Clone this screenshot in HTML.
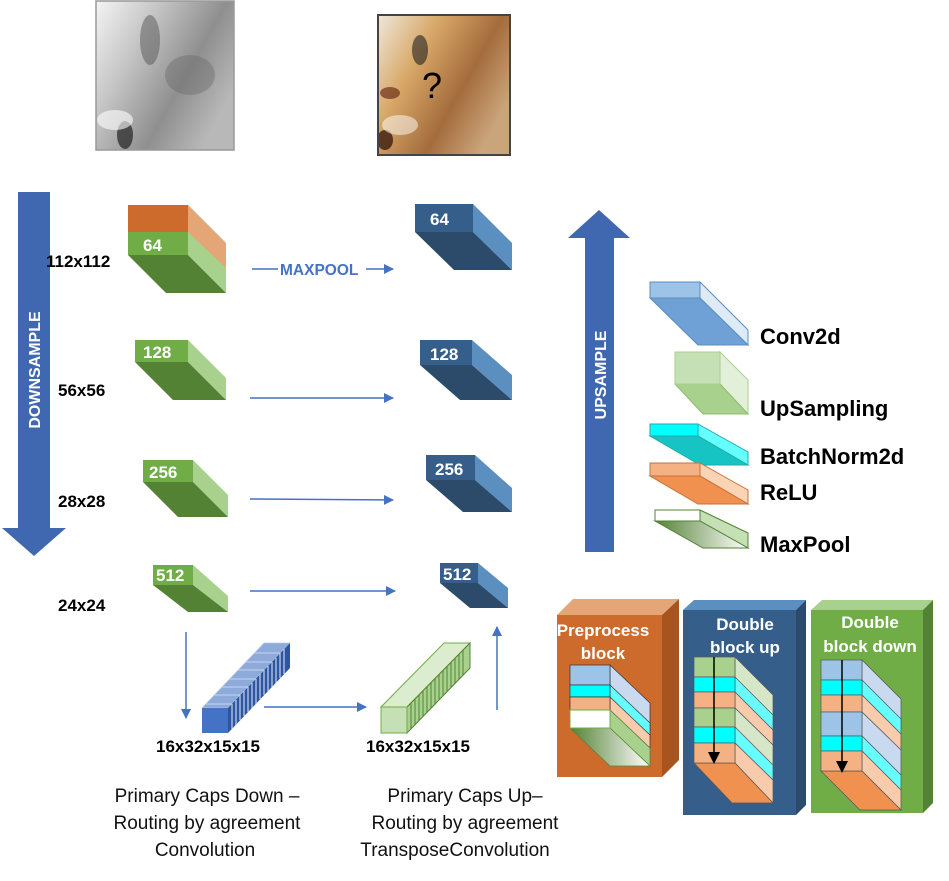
<!DOCTYPE html>
<html><head><meta charset="utf-8"><style>
html,body{margin:0;padding:0;background:#fff;}
svg text{font-family:"Liberation Sans",sans-serif;}
.w{fill:#fff;font-weight:bold;font-size:17px;}
.k{fill:#000;font-weight:bold;font-size:17px;}
.lg{fill:#000;font-weight:bold;font-size:22px;}
.cap{fill:#111;font-size:19px;text-anchor:middle;}
</style></head><body>
<svg width="949" height="876" viewBox="0 0 949 876" xmlns="http://www.w3.org/2000/svg">
<defs>
<marker id="ah" markerWidth="10" markerHeight="10" refX="9" refY="5" orient="auto" markerUnits="userSpaceOnUse"><path d="M0,0 L10,5 L0,10 z" fill="#4472c4"/></marker>
<marker id="bk" markerWidth="12" markerHeight="12" refX="10" refY="6" orient="auto" markerUnits="userSpaceOnUse"><path d="M0,0 L12,6 L0,12 z" fill="#000"/></marker>
<linearGradient id="gray" x1="0" y1="0" x2="1" y2="0.6"><stop offset="0" stop-color="#f4f4f4"/><stop offset="0.35" stop-color="#c4c4c4"/><stop offset="0.7" stop-color="#8f8f8f"/><stop offset="1" stop-color="#b8b8b8"/></linearGradient>
<linearGradient id="col" x1="0" y1="0" x2="1" y2="0.6"><stop offset="0" stop-color="#efe8dc"/><stop offset="0.35" stop-color="#d8a868"/><stop offset="0.7" stop-color="#a46c3c"/><stop offset="1" stop-color="#caa47a"/></linearGradient>
<linearGradient id="mp" x1="0" y1="0" x2="1" y2="0"><stop offset="0" stop-color="#548235"/><stop offset="1" stop-color="#fff"/></linearGradient>
</defs>

<!-- images -->
<rect x="96" y="1" width="138" height="149" fill="url(#gray)"/>
<ellipse cx="150" cy="40" rx="10" ry="25" fill="#555" opacity="0.5"/>
<ellipse cx="125" cy="135" rx="8" ry="14" fill="#222" opacity="0.7"/>
<ellipse cx="190" cy="75" rx="25" ry="20" fill="#666" opacity="0.4"/>
<ellipse cx="115" cy="120" rx="18" ry="10" fill="#fff" opacity="0.6"/>
<rect x="96" y="1" width="138" height="149" fill="none" stroke="#999" stroke-width="1.5"/>
<rect x="378" y="15" width="132" height="140" fill="url(#col)"/>
<ellipse cx="420" cy="50" rx="8" ry="15" fill="#222" opacity="0.6"/>
<ellipse cx="390" cy="93" rx="10" ry="6" fill="#5a1a0a" opacity="0.6"/>
<ellipse cx="385" cy="140" rx="8" ry="10" fill="#2a0a05" opacity="0.7"/>
<ellipse cx="400" cy="125" rx="18" ry="10" fill="#fff" opacity="0.5"/>
<rect x="378" y="15" width="132" height="140" fill="none" stroke="#444" stroke-width="2"/>
<text x="432" y="98" font-size="36" fill="#000" text-anchor="middle">?</text>

<!-- DOWNSAMPLE -->
<path d="M18,192 L50,192 L50,528 L66,528 L34,556 L2,528 L18,528 z" fill="#4068b0"/>
<text transform="translate(40,370) rotate(-90)" fill="#fff" font-weight="bold" font-size="16" text-anchor="middle">DOWNSAMPLE</text>
<!-- UPSAMPLE -->
<path d="M585,552 L614,552 L614,238 L630,238 L599,210 L568,238 L585,238 z" fill="#4068b0"/>
<text transform="translate(606,375) rotate(-90)" fill="#fff" font-weight="bold" font-size="16" text-anchor="middle">UPSAMPLE</text>

<!-- size labels -->
<text x="46" y="267" class="k">112x112</text>
<text x="58" y="396" class="k">56x56</text>
<text x="58" y="507" class="k">28x28</text>
<text x="58" y="611" class="k">24x24</text>

<!-- green 64 with orange top -->
<polygon points="188,205 226,243 226,293 188,255" fill="#a9d18e"/>
<polygon points="188,205 226,243 226,268 188,232" fill="#e4a577"/>
<polygon points="128,255 188,255 226,293 166,293" fill="#548235"/>
<rect x="128" y="205" width="60" height="27" fill="#cc6b2c"/>
<rect x="128" y="232" width="60" height="23" fill="#70ad47"/>
<text x="143" y="251" class="w">64</text>

<polygon points="188,340 226,378 226,400 188,362" fill="#a9d18e"/>
<polygon points="135,362 188,362 226,400 173,400" fill="#548235"/>
<rect x="135" y="340" width="53" height="22" fill="#70ad47"/>
<text x="143" y="358" class="w">128</text>
<polygon points="193,460 228,495 228,517 193,482" fill="#a9d18e"/>
<polygon points="143,482 193,482 228,517 178,517" fill="#548235"/>
<rect x="143" y="460" width="50" height="22" fill="#70ad47"/>
<text x="149" y="478" class="w">256</text>
<polygon points="193,565 228,596 228,612 193,585" fill="#a9d18e"/>
<polygon points="153,585 193,585 228,612 188,612" fill="#548235"/>
<rect x="153" y="565" width="40" height="20" fill="#70ad47"/>
<text x="156" y="581" class="w" font-size="15">512</text>

<polygon points="473,204 512,243 512,270 473,232" fill="#5b8fbf"/>
<polygon points="415,232 473,232 512,270 454,270" fill="#2c4a6a"/>
<rect x="415" y="204" width="58" height="28" fill="#355f8a"/>
<text x="430" y="225" class="w">64</text>
<polygon points="472,340 512,375 512,400 472,365" fill="#5b8fbf"/>
<polygon points="420,365 472,365 512,400 460,400" fill="#2c4a6a"/>
<rect x="420" y="340" width="52" height="25" fill="#355f8a"/>
<text x="430" y="360" class="w">128</text>
<polygon points="475,455 512,488 512,512 475,480" fill="#5b8fbf"/>
<polygon points="426,480 475,480 512,512 463,512" fill="#2c4a6a"/>
<rect x="426" y="455" width="49" height="25" fill="#355f8a"/>
<text x="435" y="475" class="w">256</text>
<polygon points="478,563 508,588 508,608 478,583" fill="#5b8fbf"/>
<polygon points="440,583 478,583 508,608 470,608" fill="#2c4a6a"/>
<rect x="440" y="563" width="38" height="20" fill="#355f8a"/>
<text x="443" y="580" class="w" font-size="15">512</text>

<!-- arrows -->
<line x1="252" y1="269" x2="278" y2="269" stroke="#4472c4" stroke-width="1.5"/>
<text x="280" y="275" fill="#4472c4" font-weight="bold" font-size="15.5">MAXPOOL</text>
<line x1="366" y1="269" x2="393" y2="269" stroke="#4472c4" stroke-width="1.5" marker-end="url(#ah)"/>
<line x1="250" y1="398" x2="393" y2="398" stroke="#4472c4" stroke-width="1.5" marker-end="url(#ah)"/>
<line x1="250" y1="499" x2="393" y2="500" stroke="#4472c4" stroke-width="1.5" marker-end="url(#ah)"/>
<line x1="250" y1="591" x2="395" y2="591" stroke="#4472c4" stroke-width="1.5" marker-end="url(#ah)"/>
<line x1="186" y1="632" x2="186" y2="718" stroke="#4472c4" stroke-width="1.5" marker-end="url(#ah)"/>
<line x1="264" y1="707" x2="366" y2="707" stroke="#4472c4" stroke-width="1.5" marker-end="url(#ah)"/>
<line x1="497" y1="710" x2="497" y2="627" stroke="#4472c4" stroke-width="1.5" marker-end="url(#ah)"/>

<!-- primary caps down -->
<polygon points="202,708 228,708 290,643 264,643" fill="#8eaadb" stroke="#b4c7e7" stroke-width="0.8"/>
<polygon points="228,708 290,643 290,668 228,733" fill="#2f55a0"/>
<g stroke="#c4d4ee" stroke-width="1.2">
<line x1="232" y1="704" x2="232" y2="729"/><line x1="236" y1="700" x2="236" y2="725"/><line x1="240" y1="695" x2="240" y2="720"/><line x1="244" y1="691" x2="244" y2="716"/><line x1="248" y1="687" x2="248" y2="712"/><line x1="252" y1="683" x2="252" y2="708"/><line x1="256" y1="679" x2="256" y2="704"/><line x1="260" y1="674" x2="260" y2="699"/><line x1="264" y1="670" x2="264" y2="695"/><line x1="268" y1="666" x2="268" y2="691"/><line x1="272" y1="662" x2="272" y2="687"/><line x1="276" y1="658" x2="276" y2="683"/><line x1="280" y1="653" x2="280" y2="678"/><line x1="284" y1="649" x2="284" y2="674"/>
</g>
<g stroke="#c4d4ee" stroke-width="1">
<line x1="206" y1="704" x2="232" y2="704"/><line x1="214" y1="695" x2="240" y2="695"/><line x1="222" y1="687" x2="248" y2="687"/><line x1="230" y1="679" x2="256" y2="679"/><line x1="238" y1="670" x2="264" y2="670"/><line x1="246" y1="662" x2="272" y2="662"/><line x1="254" y1="653" x2="280" y2="653"/>
</g>
<rect x="202" y="708" width="26" height="25" fill="#4472c4"/>

<!-- primary caps up -->
<polygon points="381,707 407,707 470,643 444,643" fill="#dbeccf" stroke="#70ad47" stroke-width="1"/>
<polygon points="407,707 470,643 470,668 407,733" fill="#a9d18e" stroke="#548235" stroke-width="1"/>
<g stroke="#548235" stroke-width="1">
<line x1="411" y1="703" x2="411" y2="729"/><line x1="415" y1="699" x2="415" y2="725"/><line x1="419" y1="695" x2="419" y2="720"/><line x1="423" y1="691" x2="423" y2="716"/><line x1="427" y1="687" x2="427" y2="712"/><line x1="431" y1="683" x2="431" y2="708"/><line x1="435" y1="679" x2="435" y2="704"/><line x1="439" y1="674" x2="439" y2="699"/><line x1="443" y1="670" x2="443" y2="695"/><line x1="447" y1="666" x2="447" y2="691"/><line x1="451" y1="662" x2="451" y2="687"/><line x1="455" y1="658" x2="455" y2="683"/><line x1="459" y1="654" x2="459" y2="679"/><line x1="463" y1="650" x2="463" y2="675"/>
</g>
<rect x="381" y="707" width="26" height="26" fill="#c5e0b4" stroke="#70ad47" stroke-width="1"/>

<text x="156" y="752" class="k">16x32x15x15</text>
<text x="366" y="752" class="k">16x32x15x15</text>
<text x="207" y="802" class="cap">Primary Caps Down –</text>
<text x="207" y="829" class="cap">Routing by agreement</text>
<text x="205" y="856" class="cap">Convolution</text>
<text x="465" y="802" class="cap">Primary Caps Up–</text>
<text x="465" y="829" class="cap">Routing by agreement</text>
<text x="455" y="856" class="cap">TransposeConvolution</text>

<!-- legend -->
<polygon points="700,282 748,330 748,345 700,298" fill="#deebf7" stroke="#5b8fbf"/>
<polygon points="650,298 700,298 748,345 698,345" fill="#6fa0d6" stroke="#5b8fbf"/>
<rect x="650" y="282" width="50" height="16" fill="#9dc3e6" stroke="#5b8fbf"/>
<text x="760" y="344" class="lg">Conv2d</text>

<polygon points="720,352 748,380 748,414 720,384" fill="#e2f0d9" stroke="#a9d18e"/>
<polygon points="675,384 720,384 748,414 703,414" fill="#a9d18e" stroke="#8fbc6f"/>
<rect x="675" y="352" width="45" height="32" fill="#c5e0b4" stroke="#a9d18e"/>
<text x="760" y="416" class="lg">UpSampling</text>

<polygon points="698,424 748,452 748,465 698,436" fill="#66ffff" stroke="#2aa"/>
<polygon points="650,436 698,436 748,465 700,465" fill="#17c4c4" stroke="#2aa"/>
<rect x="650" y="424" width="48" height="12" fill="#00ffff" stroke="#2aa"/>
<text x="760" y="464" class="lg">BatchNorm2d</text>

<polygon points="700,463 748,490 748,504 700,476" fill="#fbd3b5" stroke="#c8703a"/>
<polygon points="650,476 700,476 748,504 698,504" fill="#f0914f" stroke="#c8703a"/>
<rect x="650" y="463" width="50" height="13" fill="#f4b183" stroke="#c8703a"/>
<text x="760" y="500" class="lg">ReLU</text>

<polygon points="700,510 748,533 748,548 700,521" fill="#c5e0b4" stroke="#548235"/>
<polygon points="655,521 700,521 748,548 703,548" fill="url(#mp)" stroke="#548235"/>
<rect x="655" y="510" width="45" height="11" fill="#fff" stroke="#548235"/>
<text x="760" y="552" class="lg">MaxPool</text>

<!-- preprocess block -->
<polygon points="557,615 573,599 679,599 662,615" fill="#e4a577"/>
<polygon points="662,615 679,599 679,760 662,777" fill="#a7541f"/>
<rect x="557" y="615" width="105" height="162" fill="#cc6b2c"/>
<text x="603" y="636" class="w" font-size="16" text-anchor="middle">Preprocess</text>
<text x="603" y="659" class="w" font-size="16" text-anchor="middle">block</text>
<polygon points="610,665 650,703 650,730 610,692" fill="#c9daf0" stroke="#333" stroke-width="0.7"/>
<polygon points="610,685 650,723 650,740 610,702" fill="#66ffff" stroke="#333" stroke-width="0.7"/>
<polygon points="610,697 650,735 650,748 610,710" fill="#f8cbad" stroke="#333" stroke-width="0.7"/>
<polygon points="610,710 650,748 650,766 610,728" fill="#a9d18e" stroke="#548235" stroke-width="0.7"/>
<polygon points="570,728 610,728 650,766 610,766" fill="url(#mp)" stroke="#548235" stroke-width="0.7"/>
<rect x="570" y="665" width="40" height="20" fill="#9dc3e6" stroke="#333" stroke-width="0.7"/>
<rect x="570" y="685" width="40" height="12" fill="#00ffff" stroke="#333" stroke-width="0.7"/>
<rect x="570" y="697" width="40" height="13" fill="#f4b183" stroke="#333" stroke-width="0.7"/>
<rect x="570" y="710" width="40" height="18" fill="#fff" stroke="#70ad47" stroke-width="1"/>

<!-- double block up -->
<polygon points="683,610 694,600 806,600 796,610" fill="#5b8fbf"/>
<polygon points="796,610 806,600 806,805 796,815" fill="#2c4a6a"/>
<rect x="683" y="610" width="113" height="205" fill="#355f8a"/>
<text x="745" y="630" class="w" font-size="16" text-anchor="middle">Double</text>
<text x="745" y="653" class="w" font-size="16" text-anchor="middle">block up</text>
<polygon points="735,657 773,695 773,723 735,677" fill="#d6e7c9" stroke="#555" stroke-width="0.7"/>
<polygon points="735,677 773,715 773,730 735,692" fill="#66ffff" stroke="#555" stroke-width="0.7"/>
<polygon points="735,692 773,730 773,745 735,708" fill="#f8cbad" stroke="#555" stroke-width="0.7"/>
<polygon points="735,708 773,745 773,768 735,727" fill="#d6e7c9" stroke="#555" stroke-width="0.7"/>
<polygon points="735,727 773,765 773,780 735,743" fill="#66ffff" stroke="#555" stroke-width="0.7"/>
<polygon points="735,743 773,780 773,803 735,763" fill="#f8cbad" stroke="#555" stroke-width="0.7"/>
<polygon points="694,763 735,763 773,803 732,803" fill="#f0914f" stroke="#555" stroke-width="0.7"/>
<rect x="694" y="657" width="41" height="20" fill="#a9d18e" stroke="#555" stroke-width="0.7"/>
<rect x="694" y="677" width="41" height="15" fill="#00ffff" stroke="#555" stroke-width="0.7"/>
<rect x="694" y="692" width="41" height="16" fill="#f4b183" stroke="#555" stroke-width="0.7"/>
<rect x="694" y="708" width="41" height="19" fill="#a9d18e" stroke="#555" stroke-width="0.7"/>
<rect x="694" y="727" width="41" height="16" fill="#00ffff" stroke="#555" stroke-width="0.7"/>
<rect x="694" y="743" width="41" height="20" fill="#f4b183" stroke="#555" stroke-width="0.7"/>
<line x1="714" y1="657" x2="714" y2="762" stroke="#000" stroke-width="1.5" marker-end="url(#bk)"/>

<!-- double block down -->
<polygon points="811,610 822,600 933,600 923,610" fill="#a9d18e"/>
<polygon points="923,610 933,600 933,803 923,813" fill="#548235"/>
<rect x="811" y="610" width="112" height="203" fill="#70ad47"/>
<text x="870" y="628" class="w" font-size="16" text-anchor="middle">Double</text>
<text x="870" y="652" class="w" font-size="16" text-anchor="middle">block down</text>
<polygon points="862,660 901,699 901,729 862,680" fill="#c9daf0" stroke="#555" stroke-width="0.7"/>
<polygon points="862,680 901,719 901,734 862,695" fill="#66ffff" stroke="#555" stroke-width="0.7"/>
<polygon points="862,695 901,734 901,750 862,712" fill="#f8cbad" stroke="#555" stroke-width="0.7"/>
<polygon points="862,712 901,750 901,775 862,736" fill="#c9daf0" stroke="#555" stroke-width="0.7"/>
<polygon points="862,736 901,775 901,790 862,751" fill="#66ffff" stroke="#555" stroke-width="0.7"/>
<polygon points="862,751 901,790 901,810 862,771" fill="#f8cbad" stroke="#555" stroke-width="0.7"/>
<polygon points="821,771 862,771 901,810 860,810" fill="#f0914f" stroke="#555" stroke-width="0.7"/>
<rect x="821" y="660" width="41" height="20" fill="#9dc3e6" stroke="#555" stroke-width="0.7"/>
<rect x="821" y="680" width="41" height="15" fill="#00ffff" stroke="#555" stroke-width="0.7"/>
<rect x="821" y="695" width="41" height="17" fill="#f4b183" stroke="#555" stroke-width="0.7"/>
<rect x="821" y="712" width="41" height="24" fill="#9dc3e6" stroke="#555" stroke-width="0.7"/>
<rect x="821" y="736" width="41" height="15" fill="#00ffff" stroke="#555" stroke-width="0.7"/>
<rect x="821" y="751" width="41" height="20" fill="#f4b183" stroke="#555" stroke-width="0.7"/>
<line x1="842" y1="660" x2="842" y2="771" stroke="#000" stroke-width="1.5" marker-end="url(#bk)"/>
</svg>
</body></html>
